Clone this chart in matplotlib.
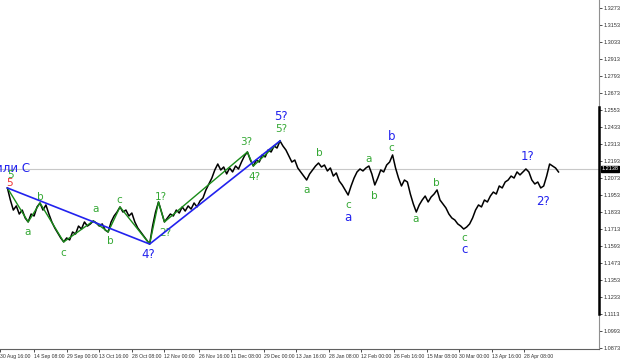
import matplotlib
matplotlib.use('Agg')
import matplotlib.pyplot as plt
import matplotlib.transforms as mtransforms

# close prices, one per bar
price = [1.2003, 1.1918, 1.1847, 1.1876, 1.1819, 1.1847, 1.1791, 1.1763, 1.1819, 1.1805,
         1.1869, 1.1897, 1.1847, 1.1883, 1.1819, 1.1763, 1.1720, 1.1685, 1.1650, 1.1622,
         1.1650, 1.1636, 1.1692, 1.1678, 1.1734, 1.1713, 1.1763, 1.1734, 1.1749, 1.1770,
         1.1756, 1.1734, 1.1749, 1.1706, 1.1692, 1.1763, 1.1805, 1.1833, 1.1869, 1.1833,
         1.1847, 1.1805, 1.1826, 1.1763, 1.1720, 1.1692, 1.1664, 1.1636, 1.1607, 1.1734,
         1.1833, 1.1904, 1.1833, 1.1763, 1.1791, 1.1819, 1.1805, 1.1847, 1.1826, 1.1869,
         1.1840, 1.1876, 1.1854, 1.1897, 1.1869, 1.1911, 1.1932, 1.1989, 1.2031, 1.2073,
         1.2130, 1.2172, 1.2130, 1.2151, 1.2102, 1.2144, 1.2116, 1.2158, 1.2137, 1.2186,
         1.2229, 1.2257, 1.2200, 1.2158, 1.2200, 1.2186, 1.2236, 1.2222, 1.2271, 1.2257,
         1.2299, 1.2285, 1.2335, 1.2299, 1.2271, 1.2229, 1.2186, 1.2200, 1.2144, 1.2116,
         1.2087, 1.2059, 1.2102, 1.2130, 1.2158, 1.2179, 1.2151, 1.2165, 1.2123, 1.2144,
         1.2087, 1.2109, 1.2052, 1.2024, 1.1989, 1.1953, 1.2017, 1.2073, 1.2116, 1.2137,
         1.2123, 1.2144, 1.2158, 1.2102, 1.2024, 1.2073, 1.2130, 1.2116, 1.2165, 1.2186,
         1.2236, 1.2144, 1.2073, 1.2017, 1.2059, 1.2045, 1.1960, 1.1890, 1.1833, 1.1883,
         1.1918, 1.1946, 1.1904, 1.1939, 1.1960, 1.1989, 1.1918, 1.1890, 1.1862, 1.1819,
         1.1791, 1.1777, 1.1749, 1.1734, 1.1713, 1.1727, 1.1749, 1.1791, 1.1847, 1.1883,
         1.1869, 1.1918, 1.1904, 1.1946, 1.1974, 1.1960, 1.2017, 1.2003, 1.2045, 1.2059,
         1.2087, 1.2073, 1.2116, 1.2095, 1.2116, 1.2137, 1.2116, 1.2059, 1.2031, 1.2045,
         1.2003, 1.2017, 1.2087, 1.2172, 1.2158, 1.2144, 1.2116]

last_price = 1.2138

# wave lines (bar index, price)
blue_x = [0, 48, 92]
blue_y = [1.2003, 1.1607, 1.2335]
green_x = [0, 7, 11, 19, 29, 34, 38, 48, 51, 53, 81, 83, 92]
green_y = [1.2003, 1.1763, 1.1897, 1.1622, 1.1770, 1.1692, 1.1869, 1.1607,
           1.1904, 1.1763, 1.2257, 1.2158, 1.2335]

# wave labels: (text, bar index, price, colour)
labels = [
    ("a", 6.7, 1.1692, 'g'), ("b", 11, 1.1939, 'g'), ("c", 19, 1.1544, 'g'),
    ("a", 29.7, 1.1854, 'g'), ("b", 34.7, 1.1629, 'g'), ("c", 37.7, 1.1918, 'g'),
    ("4?", 47.7, 1.1530, 'b'), ("1?", 51.7, 1.1939, 'g'), ("2?", 53.3, 1.1685, 'g'),
    ("3?", 80.7, 1.2327, 'g'), ("4?", 83.3, 1.2080, 'g'), ("5?", 92.3, 1.2419, 'g'),
    ("5?", 92.3, 1.2511, 'b'), ("a", 101, 1.1989, 'g'), ("b", 105.3, 1.2250, 'g'),
    ("c", 115, 1.1883, 'g'), ("a", 115, 1.1791, 'b'), ("a", 122, 1.2207, 'g'),
    ("b", 124, 1.1946, 'g'), ("c", 129.7, 1.2285, 'g'), ("b", 129.7, 1.2363, 'b'),
    ("a", 137.7, 1.1784, 'g'), ("b", 144.7, 1.2038, 'g'), ("c", 154.3, 1.1650, 'g'),
    ("c", 154.3, 1.1572, 'b'), ("1?", 175.7, 1.2222, 'b'), ("2?", 180.7, 1.1904, 'b'),
]

date_pos = [-2.5, 9, 20, 31, 42, 53, 64.5, 75.5, 86.5, 97.5, 108.5, 119.5, 130.5,
            141.5, 152.5, 163.5, 174.5]
date_labels = ["30 Aug 16:00", "14 Sep 08:00", "29 Sep 00:00", "13 Oct 16:00",
               "28 Oct 08:00", "12 Nov 00:00", "26 Nov 16:00", "11 Dec 08:00",
               "29 Dec 00:00", "13 Jan 16:00", "28 Jan 08:00", "12 Feb 00:00",
               "26 Feb 16:00", "15 Mar 08:00", "30 Mar 00:00", "13 Apr 16:00",
               "28 Apr 08:00"]
price_ticks = [1.0873, 1.0993, 1.1113, 1.1233, 1.1353, 1.1473, 1.1593, 1.1713,
               1.1833, 1.1953, 1.2073, 1.2193, 1.2313, 1.2433, 1.2553, 1.2673,
               1.2793, 1.2913, 1.3033, 1.3153, 1.3273]

GREEN = '#34a834'
BLUE = '#2222ee'
SMALL = 'Liberation Sans'

fig = plt.figure(figsize=(6.2, 3.61), dpi=100)
ax = fig.add_axes([0, 12/361, 599/620, 349/361])

ax.axhline(last_price, color='#c8c8c8', lw=0.8, zorder=1)
ax.plot(range(len(price)), price, color='black', lw=1.1, zorder=2)
ax.plot(green_x, green_y, color='#1a8c1a', lw=1.0, zorder=3)
ax.plot(blue_x, blue_y, color=BLUE, lw=1.2, zorder=4)

for t, x, y, c in labels:
    ax.text(x, y, t, color=GREEN if c == 'g' else BLUE,
            fontsize=7.5 if c == 'g' else 8.5, ha='center', va='center')

ax.text(7.5, 1.2137, "или С", color=BLUE, fontsize=8.5, ha='right', va='center')
ax.text(1.2, 1.2095, "5", color=GREEN, fontsize=7.5, ha='center', va='center')
ax.text(0.6, 1.2038, "5", color='#ee3333', fontsize=7.5, ha='center', va='center', zorder=1)

ax.set_xlim(0, 599/3)
ax.set_ylim(1.0866, 1.3330)

ax.spines['top'].set_visible(False)
ax.spines['left'].set_visible(False)
ax.spines['right'].set_color('#909090')
ax.spines['bottom'].set_color('#606060')
ax.spines['right'].set_linewidth(0.8)
ax.spines['bottom'].set_linewidth(0.8)

ax.yaxis.tick_right()
ax.set_yticks(price_ticks)
ax.set_yticklabels([f"{p:.4f}" for p in price_ticks], family=SMALL)
ax.tick_params(axis='y', length=2, width=0.6, pad=1, labelsize=4.0, colors='#303030')

ax.set_xticks(date_pos)
ax.set_xticklabels(date_labels, ha='left', family=SMALL)
ax.tick_params(axis='x', length=2.5, width=0.6, pad=1, labelsize=3.7, colors='#303030')

# thick band on the price scale
trans = mtransforms.blended_transform_factory(ax.transAxes, ax.transData)
ax.plot([1.0, 1.0], [1.1113, 1.2575], color='black', lw=1.8, transform=trans,
        clip_on=False, zorder=5)

ax.text(1.004, last_price, f"{last_price:.4f}", transform=trans, color='white',
        fontsize=4.0, family=SMALL, va='center', ha='left',
        bbox=dict(boxstyle='square,pad=0.12', fc='black', ec='black'))

fig.savefig('out.png', dpi=100)
